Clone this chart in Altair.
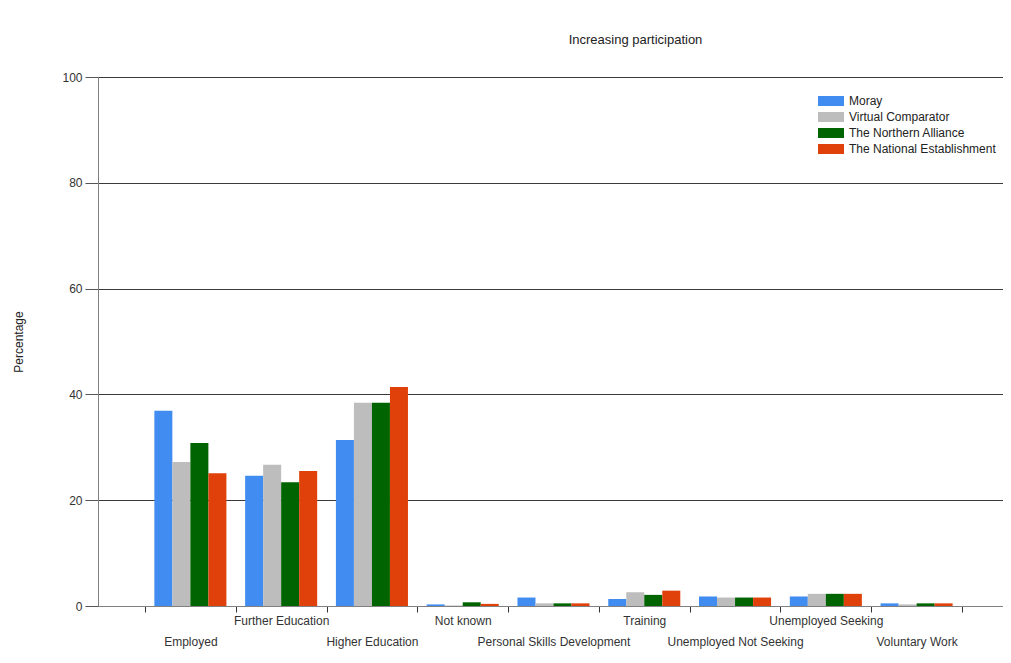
import altair as alt
import pandas as pd

categories = ["Employed", "Further Education", "Higher Education", "Not known",
              "Personal Skills Development", "Training", "Unemployed Not Seeking",
              "Unemployed Seeking", "Voluntary Work"]
series_names = ["Moray", "Virtual Comparator", "The Northern Alliance", "The National Establishment"]
moray = [36.9, 24.6, 31.4, 0.3, 1.6, 1.3, 1.8, 1.8, 0.5]
virtual_comparator = [27.2, 26.7, 38.4, 0.1, 0.5, 2.6, 1.6, 2.3, 0.3]
northern_alliance = [30.8, 23.4, 38.4, 0.7, 0.5, 2.1, 1.6, 2.3, 0.5]
national_establishment = [25.1, 25.5, 41.4, 0.4, 0.5, 2.9, 1.6, 2.3, 0.5]
colors = ["#418CF0", "#BDBDBD", "#006400", "#E0400A"]
top_row_labels = ["Further Education", "Not known", "Training", "Unemployed Seeking"]

rows = []
for name, vals in zip(series_names, [moray, virtual_comparator, northern_alliance, national_establishment]):
    for c, v in zip(categories, vals):
        rows.append({"Category": c, "Series": name, "Percentage": v})
df = pd.DataFrame(rows)

font = "Liberation Sans"
top_list = "[" + ",".join("'" + s + "'" for s in top_row_labels) + "]"

chart = alt.Chart(df).mark_bar().encode(
    x=alt.X("Category:N", sort=categories,
            scale=alt.Scale(paddingInner=0, paddingOuter=0.4847, align=0.534),
            axis=alt.Axis(title=None, labelAngle=0, tickBand="extent", tickSize=6,
                          labelOverlap=False, labelFontSize=12, labelFont=font,
                          labelColor="#333333", labelPadding=3, labelBaseline="top",
                          labelLineHeight=21, domainColor="#808080", tickColor="#333333",
                          labelExpr=f"indexof({top_list}, datum.value) >= 0 ? datum.label : ['', datum.label]")),
    xOffset=alt.XOffset("Series:N", sort=series_names,
                        scale=alt.Scale(paddingInner=0, paddingOuter=0.52)),
    y=alt.Y("Percentage:Q", scale=alt.Scale(domain=[0, 100]),
            axis=alt.Axis(title="Percentage", values=[0, 20, 40, 60, 80, 100],
                          tickSize=13, labelPadding=3, labelFontSize=12, labelFont=font,
                          labelColor="#333333", titleFont=font, titleFontSize=12,
                          titleFontWeight="normal", titleColor="#222222", titleX=-73,
                          grid=True, gridColor="#3a3a3a", gridWidth=1,
                          domainColor="#808080", tickColor="#555555")),
    color=alt.Color("Series:N", sort=series_names,
                    scale=alt.Scale(domain=series_names, range=colors),
                    legend=alt.Legend(title=None, orient="none", legendX=727, legendY=18,
                                      symbolType="M-2.6,-1H2.6V1H-2.6Z", symbolSize=100,
                                      symbolStrokeWidth=0, labelFont=font, labelFontSize=12,
                                      labelColor="#222222", rowPadding=4, labelOffset=12)),
).properties(
    width=905, height=529,
    title=alt.TitleParams("Increasing participation", fontSize=13, font=font,
                          fontWeight="normal", color="#222222", offset=24, dx=85),
    autosize=alt.AutoSizeParams(type="none"),
    padding={"left": 90, "top": 69, "right": 0, "bottom": 47},
).configure_view(stroke=None)

chart.save("out.html", embed_options={"renderer": "svg", "actions": False})
